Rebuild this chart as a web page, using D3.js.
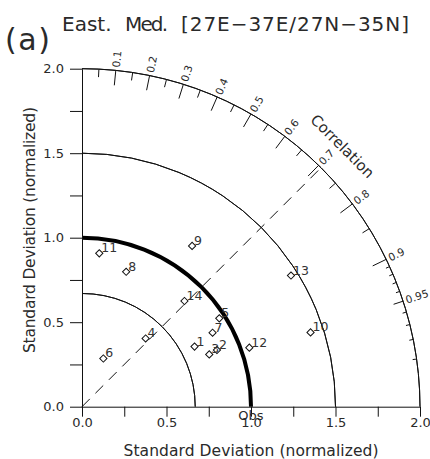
<!DOCTYPE html>
<html>
<head>
<meta charset="utf-8">
<script src="https://cdn.jsdelivr.net/npm/d3@7"></script>
<style>
body { margin: 0; background: #fff; }
svg text { font-family: "DejaVu Sans", sans-serif; fill: #2a2a2a; }
</style>
</head>
<body>
<svg id="chart" width="430" height="459"></svg>
<script>
// model labels and their (normalized std, correlation)
var modelNames = ["1", "2", "3", "4", "5", "6", "7", "8", "9", "10", "11", "12", "13", "14"];
var stdRatio = [0.755, 0.866, 0.814, 0.552, 0.966, 0.312, 0.888, 0.840, 1.153, 1.422, 0.913, 1.050, 1.460, 0.871];
var corrCoef = [0.882, 0.922, 0.925, 0.682, 0.841, 0.405, 0.870, 0.311, 0.565, 0.951, 0.112, 0.943, 0.847, 0.696];

var stdTicks = [0, 0.25, 0.5, 0.75, 1.0, 1.25, 1.5, 1.75, 2.0];
var stdRings = [0.67, 1.5, 2.0];
var obsStd = 1.0;
var refLineCorr = Math.SQRT1_2;

var corrMajor = [0.1, 0.2, 0.3, 0.4, 0.5, 0.6, 0.7, 0.8, 0.9];
var corrMinor = [0.05, 0.15, 0.25, 0.35, 0.45, 0.55, 0.65, 0.75, 0.85];
var corrMid = [0.95];
var corrFine = [0.91, 0.92, 0.93, 0.94, 0.96, 0.97, 0.98, 0.99];
var corrLabels = [0.1, 0.2, 0.3, 0.4, 0.5, 0.6, 0.7, 0.8, 0.9, 0.95];

var ox = 82, oy = 406.7;  // where std = 0
var maxStd = 2.0;

var x = d3.scaleLinear().domain([0, maxStd]).range([ox, ox + 338]);
var y = d3.scaleLinear().domain([0, maxStd]).range([oy, oy - 338]);
var r = d3.scaleLinear().domain([0, maxStd]).range([0, 338]);

var svg = d3.select('#chart');

// polar -> screen
function px(s, c) { return x(s * c); }
function py(s, c) { return y(s * Math.sin(Math.acos(c))); }

// std rings
var arc = d3.arc().startAngle(0).endAngle(Math.PI / 2);
svg.selectAll('path.ring')
  .data(stdRings)
  .enter()
  .append('path')
    .attr('class', 'ring')
    .attr('transform', 'translate(' + ox + ',' + oy + ')')
    .attr('d', function(d) { return arc({innerRadius: r(d), outerRadius: r(d)}); })
    .style('fill', 'none')
    .style('stroke', '#111')
    .style('stroke-width', 1);

// obs ring, thick
svg.append('path')
  .attr('transform', 'translate(' + ox + ',' + oy + ')')
  .attr('d', arc({innerRadius: r(obsStd), outerRadius: r(obsStd)}))
  .style('fill', 'none')
  .style('stroke', '#000')
  .style('stroke-width', 4);

// dashed reference line
svg.append('line')
  .attr('x1', x(0)).attr('y1', y(0))
  .attr('x2', px(maxStd, refLineCorr)).attr('y2', py(maxStd, refLineCorr))
  .style('stroke', '#111')
  .style('stroke-width', 1)
  .style('stroke-dasharray', '11,8');

// axes
var xAxis = d3.axisBottom(x)
  .tickValues(stdTicks)
  .tickSize(10)
  .tickSizeOuter(0)
  .tickPadding(1)
  .tickFormat(function(d) { return (d * 2) % 1 === 0 ? d.toFixed(1) : ''; });

var yAxis = d3.axisLeft(y)
  .tickValues(stdTicks)
  .tickSize(12)
  .tickSizeOuter(0)
  .tickPadding(6)
  .tickFormat(function(d) { return (d * 2) % 1 === 0 ? d.toFixed(1) : ''; });

var gx = svg.append('g').attr('transform', 'translate(0,' + oy + ')').call(xAxis);
var gy = svg.append('g').attr('transform', 'translate(' + ox + ',0)').call(yAxis);
[gx, gy].forEach(function(g) {
  g.attr('font-family', null).attr('font-size', null);
  g.selectAll('text').style('font-size', '13px');
  g.selectAll('line, path').style('stroke', '#111');
});

// correlation ticks on the outer ring
function corrTicks(vals, len) {
  svg.append('g').selectAll('line')
    .data(vals)
    .enter()
    .append('line')
      .attr('x1', function(c) { return px(maxStd, c); })
      .attr('y1', function(c) { return py(maxStd, c); })
      .attr('x2', function(c) { return px(maxStd - r.invert(len), c); })
      .attr('y2', function(c) { return py(maxStd - r.invert(len), c); })
      .style('stroke', '#111')
      .style('stroke-width', 1);
}
corrTicks(corrMajor, 15);
corrTicks(corrMinor, 8);
corrTicks(corrMid, 10);
corrTicks(corrFine, 4);

svg.append('g').selectAll('text')
  .data(corrLabels)
  .enter()
  .append('text')
    .attr('transform', function(c) {
      var a = Math.acos(c) * 180 / Math.PI;
      return 'translate(' + px(maxStd + r.invert(3), c) + ',' + py(maxStd + r.invert(3), c) + ') rotate(' + (-a) + ')';
    })
    .attr('dy', '0.35em')
    .style('font-size', '10.5px')
    .text(function(c) { return c; });

svg.append('text')
  .attr('transform', 'translate(' + px(2.18, Math.cos(Math.PI / 4)) + ',' + py(2.18, Math.cos(Math.PI / 4)) + ') rotate(45)')
  .attr('text-anchor', 'middle')
  .attr('dy', '0.35em')
  .style('font-size', '15px')
  .text('Correlation');

// models
var pts = modelNames.map(function(n, i) {
  return {name: n, x: px(stdRatio[i], corrCoef[i]), y: py(stdRatio[i], corrCoef[i])};
});

svg.selectAll('path.pt')
  .data(pts)
  .enter()
  .append('path')
    .attr('class', 'pt')
    .attr('d', d3.symbol(d3.symbolSquare, 26))
    .attr('transform', function(d) { return 'translate(' + d.x + ',' + d.y + ') rotate(45)'; })
    .style('fill', 'none')
    .style('stroke', '#111')
    .style('stroke-width', 1);

svg.selectAll('text.pt')
  .data(pts)
  .enter()
  .append('text')
    .attr('class', 'pt')
    .attr('x', function(d) { return d.x + 2; })
    .attr('y', function(d) { return d.y - 1; })
    .style('font-size', '12.5px')
    .style('fill', '#333')
    .text(function(d) { return d.name; });

svg.append('text')
  .attr('x', x(obsStd)).attr('y', oy + 13)
  .attr('text-anchor', 'middle')
  .style('font-size', '13px')
  .text('Obs');

// titles
svg.append('text')
  .attr('x', x(1)).attr('y', 456)
  .attr('text-anchor', 'middle')
  .attr('textLength', 255)
  .attr('lengthAdjust', 'spacing')
  .style('font-size', '15.5px')
  .text('Standard Deviation (normalized)');

svg.append('text')
  .attr('transform', 'translate(35,230) rotate(-90)')
  .attr('text-anchor', 'middle')
  .attr('textLength', 246)
  .attr('lengthAdjust', 'spacing')
  .style('font-size', '15.5px')
  .text('Standard Deviation (normalized)');

svg.append('text')
  .attr('x', 5).attr('y', 50)
  .attr('textLength', 45)
  .attr('lengthAdjust', 'spacing')
  .style('font-size', '30px')
  .text('(a)');

// title words are spread wide in the original
var title = svg.append('text').attr('y', 30.5).style('font-size', '20px');
title.append('tspan').attr('x', 62).text('East.');
title.append('tspan').attr('x', 125)
  .attr('textLength', 43)
  .attr('lengthAdjust', 'spacing')
  .text('Med.');
title.append('tspan').attr('x', 181)
  .attr('textLength', 228)
  .attr('lengthAdjust', 'spacing')
  .text('[27E\u221237E/27N\u221235N]');
</script>
</body>
</html>
